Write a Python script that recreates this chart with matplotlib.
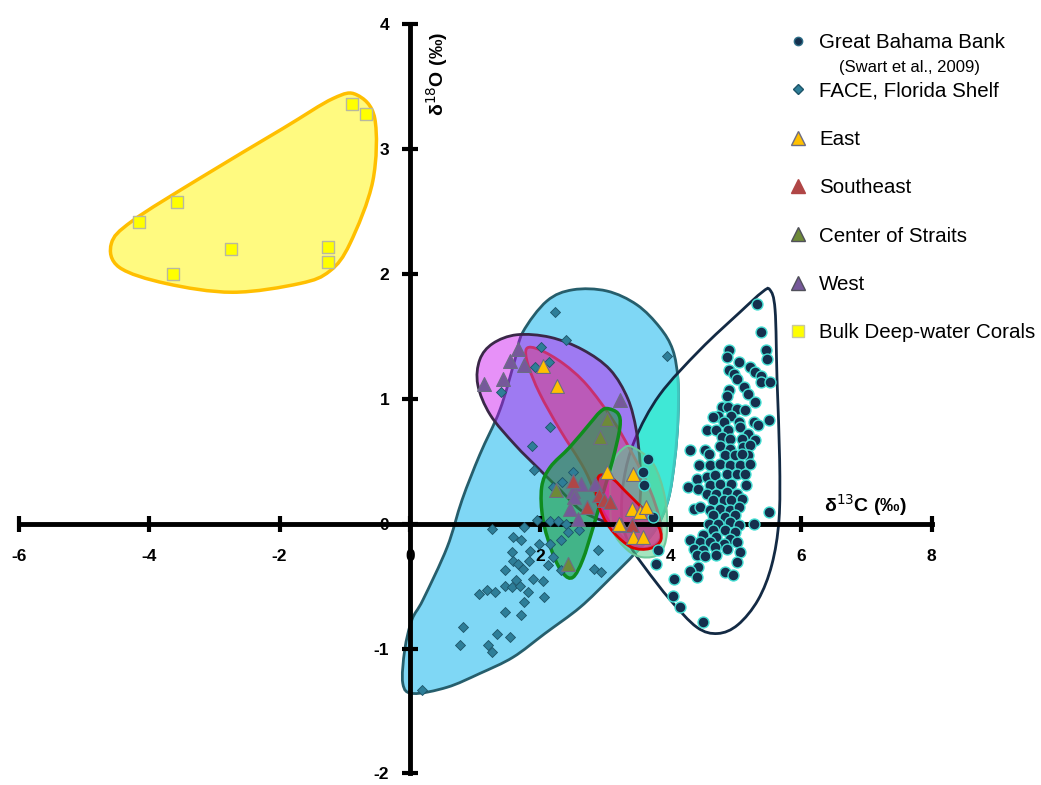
import numpy as np
import matplotlib
matplotlib.use('Agg')
import matplotlib.pyplot as plt
from matplotlib.path import Path
from matplotlib.patches import PathPatch
from matplotlib.lines import Line2D

plt.rcParams['font.family'] = ['Liberation Sans', 'DejaVu Sans']
plt.rcParams['axes.unicode_minus'] = False

# ---- data: (d13C, d18O) ----
gbb_x = [5.32, 5.38, 5.46, 5.47, 4.89, 4.86, 5.05, 5.21, 5.29, 5.39, 4.90, 4.97, 5.01, 5.38, 5.52,
         5.13, 4.90, 5.19, 4.86, 5.29, 4.78, 4.88, 5.01, 5.14, 4.73, 4.93, 4.65, 5.51, 4.81, 5.04,
         5.27, 5.34, 4.55, 4.70, 4.88, 5.06, 4.78, 4.91, 5.19, 5.09, 5.29, 4.29, 4.52, 4.58, 4.75,
         4.91, 5.11, 5.21, 4.83, 4.98, 5.19, 5.09,
         4.44, 4.60, 4.75, 4.91, 5.06, 5.21, 4.40, 4.55, 4.68, 4.86, 5.01, 5.14, 4.27, 4.60, 4.75,
         4.93, 5.16, 4.42, 4.55, 4.70, 4.86, 5.01, 4.65, 4.81, 4.93, 5.09, 4.35, 4.45, 4.60, 4.75,
         4.91, 5.04, 4.65, 4.83, 4.98, 5.50, 4.58, 4.73, 4.91, 5.04, 5.27, 4.65, 4.83, 4.98, 4.50,
         4.70, 4.91, 4.29, 4.45, 4.60, 4.81, 5.01, 4.35, 4.50, 4.68, 4.86, 4.40, 4.52, 4.70, 5.06,
         5.01, 4.42, 4.29, 4.83, 4.96, 4.40, 4.05, 4.04, 4.14, 4.50,
         3.65, 3.57, 3.59, 3.73, 3.81, 3.78]
gbb_y = [1.76, 1.53, 1.39, 1.32, 1.39, 1.33, 1.29, 1.25, 1.21, 1.18, 1.23, 1.20, 1.16, 1.13, 1.13,
         1.09, 1.07, 1.04, 1.02, 0.97, 0.93, 0.93, 0.92, 0.91, 0.86, 0.86, 0.85, 0.83, 0.81, 0.81,
         0.81, 0.79, 0.75, 0.75, 0.75, 0.77, 0.69, 0.68, 0.72, 0.68, 0.67, 0.59, 0.59, 0.56, 0.62,
         0.60, 0.61, 0.63, 0.55, 0.55, 0.55, 0.56,
         0.47, 0.47, 0.48, 0.47, 0.47, 0.48, 0.36, 0.37, 0.39, 0.40, 0.40, 0.40, 0.29, 0.31, 0.32,
         0.32, 0.31, 0.28, 0.24, 0.24, 0.25, 0.24, 0.19, 0.19, 0.19, 0.20, 0.12, 0.13, 0.11, 0.12,
         0.11, 0.13, 0.07, 0.05, 0.07, 0.09, 0.00, 0.00, 0.01, -0.01, 0.00, -0.05, -0.05, -0.07, -0.09,
         -0.11, -0.12, -0.13, -0.15, -0.15, -0.16, -0.15, -0.20, -0.21, -0.19, -0.20, -0.25, -0.26, -0.25, -0.23,
         -0.31, -0.35, -0.38, -0.39, -0.41, -0.43, -0.44, -0.58, -0.67, -0.79,
         0.52, 0.41, 0.31, 0.05, -0.21, -0.32]

face_x = [2.23, 2.39, 2.01, 2.14, 1.92, 3.94, 1.40, 2.15, 1.87, 1.90, 2.50, 2.33, 2.20,
          1.26, 1.75, 1.95, 2.15, 2.27, 2.39, 2.60, 2.42, 1.58, 1.70, 1.98, 2.15, 2.32, 1.56,
          1.84, 2.19, 1.58, 1.65, 1.83, 2.12, 1.74, 1.46, 2.32, 2.89, 2.83, 2.93, 1.88, 2.04,
          1.63, 1.45, 1.57, 1.69, 1.81, 1.18, 1.06, 1.30, 2.06, 1.75, 1.45, 1.71, 0.81, 1.33,
          1.53, 0.76, 1.19, 1.26, 0.18]
face_y = [1.69, 1.47, 1.41, 1.29, 1.25, 1.34, 1.05, 0.77, 0.62, 0.43, 0.41, 0.33, 0.29,
          -0.04, -0.03, 0.03, 0.02, 0.02, 0.00, -0.05, -0.07, -0.11, -0.13, -0.16, -0.16, -0.13, -0.23,
          -0.22, -0.27, -0.30, -0.32, -0.30, -0.33, -0.36, -0.37, -0.37, -0.21, -0.36, -0.39, -0.44, -0.46,
          -0.45, -0.50, -0.51, -0.50, -0.55, -0.53, -0.56, -0.55, -0.59, -0.63, -0.71, -0.73, -0.83, -0.88,
          -0.91, -0.97, -0.97, -1.03, -1.33]

east_x = [2.04, 2.25, 3.02, 3.42, 3.40, 3.53, 3.62, 3.42, 3.57, 3.21]
east_y = [1.26, 1.10, 0.41, 0.40, 0.12, 0.09, 0.13, -0.11, -0.11, 0.00]

se_x = [2.50, 2.71, 2.90, 2.98, 3.07, 3.24, 3.40]
se_y = [0.34, 0.13, 0.23, 0.19, 0.17, -0.01, -0.01]

cos_x = [3.02, 2.92, 2.24, 2.43]
cos_y = [0.84, 0.69, 0.27, -0.32]

west_x = [1.65, 1.54, 1.75, 1.42, 1.13, 3.22, 2.62, 2.84, 2.50, 2.52, 2.45, 2.58]
west_y = [1.40, 1.30, 1.27, 1.16, 1.12, 0.99, 0.32, 0.32, 0.26, 0.21, 0.12, 0.04]

coral_x = [-0.89, -0.68, -3.57, -4.15, -2.74, -1.26, -1.26, -3.63]
coral_y = [3.36, 3.28, 2.57, 2.41, 2.20, 2.21, 2.09, 2.00]

# hand-drawn envelopes (outline vertices)
coral_env = [(-0.82, 3.43), (-0.54, 3.24), (-0.57, 2.74), (-0.92, 2.24), (-1.23, 2.02), (-1.69, 1.92),
             (-2.72, 1.85), (-3.74, 1.92), (-4.46, 2.05), (-4.58, 2.24), (-4.26, 2.42), (-3.23, 2.76),
             (-1.95, 3.16), (-1.18, 3.40)]
face_env = [(1.73, 1.53), (2.10, 1.78), (2.50, 1.87), (3.02, 1.86), (3.48, 1.75), (3.83, 1.57),
            (4.03, 1.39), (4.11, 1.15), (4.11, 0.83), (4.06, 0.51), (3.96, 0.19), (3.76, -0.05),
            (3.45, -0.24), (3.07, -0.44), (2.61, -0.67), (2.07, -0.88), (1.58, -1.07), (1.07, -1.20),
            (0.57, -1.31), (0.05, -1.36), (-0.11, -1.28), (-0.08, -1.01), (0.03, -0.77), (0.20, -0.61),
            (0.57, -0.19), (0.80, 0.19), (1.07, 0.55), (1.38, 0.91), (1.61, 1.31)]
gbb_env = [(5.52, 1.87), (5.60, 1.71), (5.63, 1.15), (5.67, 0.51), (5.66, 0.03), (5.55, -0.33),
           (5.34, -0.61), (5.03, -0.81), (4.72, -0.88), (4.40, -0.83), (3.99, -0.61), (3.60, -0.35),
           (3.37, -0.17), (3.25, 0.03), (3.28, 0.35), (3.45, 0.67), (3.83, 1.03), (4.45, 1.39),
           (5.06, 1.69), (5.40, 1.85)]
west_env = [(1.27, 1.44), (1.64, 1.51), (2.15, 1.49), (2.65, 1.39), (3.07, 1.23), (3.34, 1.00),
            (3.47, 0.75), (3.53, 0.47), (3.53, 0.19), (3.47, 0.03), (3.22, -0.01), (2.91, 0.03),
            (2.61, 0.11), (2.30, 0.27), (1.99, 0.43), (1.61, 0.63), (1.23, 0.87), (1.04, 1.11),
            (1.07, 1.31)]
east_env = [(1.79, 1.40), (1.99, 1.39), (2.35, 1.28), (2.71, 1.11), (3.11, 0.83), (3.42, 0.55),
            (3.68, 0.27), (3.83, 0.03), (3.83, -0.13), (3.60, -0.20), (3.30, -0.13), (2.99, 0.07),
            (2.68, 0.43), (2.30, 0.75), (1.99, 1.04), (1.81, 1.27)]
pale_env = [(3.42, 0.61), (3.73, 0.48), (3.91, 0.21), (3.94, -0.08), (3.83, -0.24), (3.57, -0.27),
            (3.33, -0.21), (3.11, -0.05), (3.07, 0.24), (3.11, 0.48), (3.27, 0.60)]
se_env = [(2.90, 0.38), (3.10, 0.36), (3.30, 0.26), (3.55, 0.13), (3.79, 0.00), (3.85, -0.13),
          (3.68, -0.20), (3.40, -0.19), (3.12, -0.07), (2.95, 0.07), (2.86, 0.22)]
cos_env = [(3.02, 0.92), (3.19, 0.88), (3.22, 0.77), (3.11, 0.51), (2.96, 0.24), (2.81, -0.03),
           (2.65, -0.29), (2.50, -0.43), (2.35, -0.40), (2.19, -0.24), (2.04, 0.03), (2.02, 0.29),
           (2.15, 0.45), (2.45, 0.61), (2.76, 0.80), (2.91, 0.89)]


def blob(pts):
    # closed smooth outline through the vertices (Catmull-Rom as cubic Bezier)
    p = np.array(pts)
    n = len(p)
    verts = [p[0]]
    codes = [Path.MOVETO]
    for i in range(n):
        p0, p1, p2, p3 = p[i - 1], p[i], p[(i + 1) % n], p[(i + 2) % n]
        verts += [p1 + (p2 - p0) / 6, p2 - (p3 - p1) / 6, p2]
        codes += [Path.CURVE4] * 3
    verts.append(p[0])
    codes.append(Path.CLOSEPOLY)
    return Path(verts, codes)


fig = plt.figure(figsize=(10.41, 7.85), dpi=100)
ax = fig.add_axes([0.01806, 0.01465, 0.8768, 0.9554])
ax.set_xlim(-6, 8)
ax.set_ylim(-2, 4)

coral_path = blob(coral_env)
face_path = blob(face_env)
gbb_path = blob(gbb_env)

ax.add_patch(PathPatch(coral_path, fc='#fffa80', ec='#ffbf00', lw=2.5, zorder=1))
ax.add_patch(PathPatch(face_path, fc='#7fd7f5', ec='#265e6c', lw=2, zorder=1))
turq = PathPatch(face_path, fc='#3fe8d6', ec='#3fc8c0', lw=2, zorder=1.05)
ax.add_patch(turq)
turq.set_clip_path(gbb_path, ax.transData)
ax.add_patch(PathPatch(gbb_path, fc='none', ec='#132a44', lw=2, zorder=1.1))
ax.add_patch(PathPatch(blob(west_env), fc=(0.79, 0.0, 0.94, 0.43), ec='#3a2848', lw=2, zorder=1.15))
ax.add_patch(PathPatch(blob(east_env), fc=(0.88, 0.2, 0.45, 0.45), ec='#c8306e', lw=2, zorder=1.2))
ax.add_patch(PathPatch(blob(pale_env), fc=(0.35, 0.82, 0.55, 0.55), ec='#6cc89a', lw=1.5, zorder=1.25))
ax.add_patch(PathPatch(blob(cos_env), fc=(0.10, 0.62, 0.25, 0.6), ec='#0f8c1e', lw=2.5, zorder=1.3))
ax.add_patch(PathPatch(blob(se_env), fc=(0.90, 0.10, 0.55, 0.6), ec='#dd0000', lw=2, zorder=1.35))

# axes through the origin
for s in ['top', 'right']:
    ax.spines[s].set_visible(False)
ax.spines['left'].set_position(('data', 0))
ax.spines['bottom'].set_position(('data', 0))
for s in ['left', 'bottom']:
    ax.spines[s].set_linewidth(3.5)
    ax.spines[s].set_zorder(2)
ax.set_xticks(np.arange(-6, 9, 2))
ax.set_yticks(np.arange(-2, 5, 1))
ax.tick_params(direction='inout', length=12, width=3, labelsize=12.5)
ax.tick_params(axis='x', pad=12)
ax.tick_params(axis='y', pad=9)
for lab in ax.get_xticklabels() + ax.get_yticklabels():
    lab.set_fontweight('bold')

# markers
ax.scatter(face_x, face_y, marker='D', s=26, c='#2e7e98', edgecolors='#1d5468', linewidths=0.6, zorder=3)
ax.scatter(gbb_x, gbb_y, marker='o', s=62, c='#15304e', edgecolors='#45e0d4', linewidths=1.0, zorder=3.1)
tri = dict(marker='^', s=100, edgecolors='#6c6c84', linewidths=0.8, zorder=4)
ax.scatter(west_x, west_y, c='#76589a', **tri)
ax.scatter(cos_x, cos_y, c='#6e8a38', **tri)
ax.scatter(se_x, se_y, c='#b04646', **tri)
ax.scatter(east_x, east_y, c='#ffc000', **tri)
ax.scatter(coral_x, coral_y, marker='s', s=70, c='#ffff00', edgecolors='#b8b8a0', linewidths=1.0, zorder=4)

# axis titles
ax.text(0.42, 3.6, 'δ$^{18}$O (‰)', rotation=90, ha='center', va='center',
        fontsize=14, fontweight='bold')
ax.text(6.98, 0.15, 'δ$^{13}$C (‰)', ha='center', va='center', fontsize=14, fontweight='bold')

# legend
handles = [
    Line2D([], [], ls='none', marker='o', ms=6, mfc='#15304e', mec='#2e6e88'),
    Line2D([], [], ls='none', marker='D', ms=5, mfc='#2e7e98', mec='#1d5468'),
    Line2D([], [], ls='none', marker='^', ms=10, mfc='#ffc000', mec='#6c6c84'),
    Line2D([], [], ls='none', marker='^', ms=10, mfc='#b04646', mec='#b04646'),
    Line2D([], [], ls='none', marker='^', ms=10, mfc='#6e8a38', mec='#50505a'),
    Line2D([], [], ls='none', marker='^', ms=10, mfc='#76589a', mec='#50505a'),
    Line2D([], [], ls='none', marker='s', ms=9, mfc='#ffff00', mec='#c8c8a0'),
]
labels = ['Great Bahama Bank', 'FACE, Florida Shelf', 'East', 'Southeast',
          'Center of Straits', 'West', 'Bulk Deep-water Corals']
fig.legend(handles, labels, loc='upper left', bbox_to_anchor=(0.7567, 0.958), frameon=False,
           fontsize=14.8, borderpad=0, borderaxespad=0, handlelength=1.0, handletextpad=0.52,
           labelspacing=1.43)
fig.text(0.874, 0.914, '(Swart et al., 2009)', ha='center', va='center', fontsize=12)

fig.savefig('out.png', dpi=100)
